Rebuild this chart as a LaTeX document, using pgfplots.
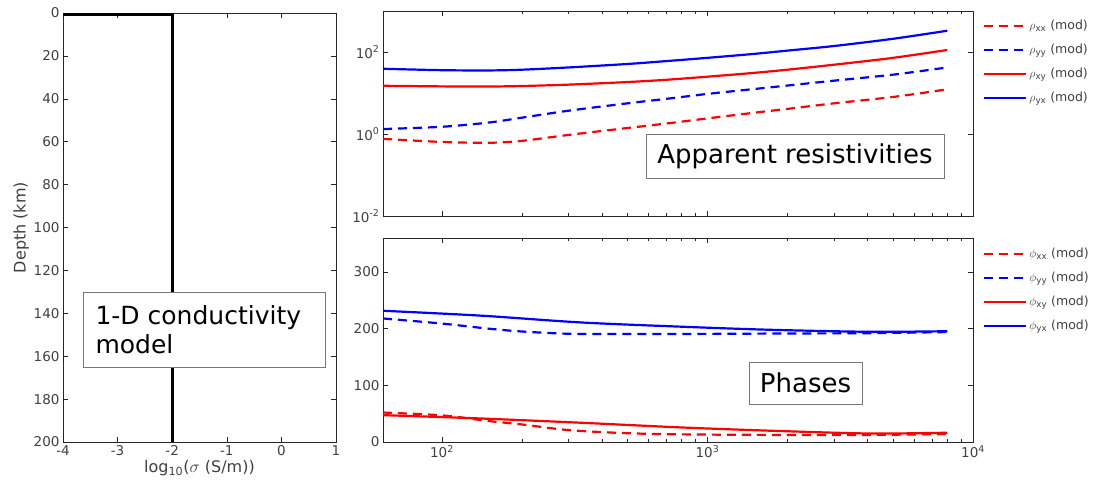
\documentclass[border=0pt]{standalone}
\usepackage{fontspec}
\setmainfont{DejaVu Sans}
\usepackage{pgfplots}
\pgfplotsset{compat=1.18}
\definecolor{axgray}{RGB}{38,38,38}
\definecolor{lblgray}{RGB}{64,64,64}
\definecolor{boxgray}{RGB}{120,120,120}
\pgfplotsset{
  mstyle/.style={scale only axis,
    axis line style={axgray, line width=0.6pt},
    tick style={axgray, line width=0.6pt},
    tick align=inside, major tick length=5pt, minor tick length=3pt,
    tick label style={font=\fontsize{13.5}{14}\selectfont, text=lblgray},
    label style={font=\fontsize{16}{17}\selectfont, text=lblgray},
    /pgf/number format/assume math mode=true},
  leg/.style={legend style={draw=none, fill=none, at={(1.017,0.965)}, anchor=north west,
    font=\fontsize{12.5}{13}\selectfont, text=lblgray, row sep=9pt, inner sep=0pt},
    legend cell align=left,
    legend image code/.code={\draw[##1] (0pt,0pt) -- (42pt,0pt);}},
  dsh/.style={dash pattern=on 9pt off 6pt},
}
\begin{document}
\begin{tikzpicture}
\useasboundingbox (0,0) rectangle (1107pt,495pt);
% left: 1-D model
\begin{axis}[mstyle, at={(63pt,53pt)}, anchor=south west, width=273pt, height=429pt,
  xmin=-4, xmax=1, ymin=0, ymax=200, y dir=reverse, clip=false,
  xtick={-4,-3,-2,-1,0,1}, ytick={0,20,...,200},
  xlabel={log\textsubscript{10}($\sigma$ (S/m))}, ylabel={Depth (km)},
  xlabel style={yshift=2pt}, ylabel style={yshift=-2pt}]
\addplot[black, line width=2.8pt] coordinates {(-4,0.6) (-2,0.6) (-2,200)};
\end{axis}
% upper right: apparent resistivities
\begin{axis}[mstyle, leg, at={(383pt,279pt)}, anchor=south west, width=590pt, height=205pt,
  xmode=log, ymode=log, xmin=60, xmax=10000, ymin=0.01, ymax=1000,
  xtick={100,1000,10000}, xticklabels={}, 
  ytick={0.01,1,100}, yticklabels={10\textsuperscript{-2},10\textsuperscript{0},10\textsuperscript{2}},
  yminorticks=false]
\addplot[red, line width=2.2pt, dsh, smooth] coordinates {(60,0.76) (100,0.64) (150,0.61) (200,0.68) (300,0.95) (500,1.4) (700,1.8) (1000,2.4) (1500,3.3) (2000,4.1) (3000,5.6) (5000,8) (7800,12)};
\addlegendentry{$\rho$\textsubscript{xx} (mod)}
\addplot[blue, line width=2.2pt, dsh, smooth] coordinates {(60,1.32) (100,1.5) (150,1.9) (200,2.5) (300,3.7) (500,5.6) (700,7.2) (1000,9.5) (1500,12.5) (2000,15.2) (3000,20) (5000,28) (8000,42)};
\addlegendentry{$\rho$\textsubscript{yy} (mod)}
\addplot[red, line width=2.2pt, smooth] coordinates {(60,15) (100,14.5) (150,14.4) (200,14.8) (300,16) (500,18.5) (700,21) (1000,25) (1500,31) (2000,37) (3000,49) (5000,72) (8000,112)};
\addlegendentry{$\rho$\textsubscript{xy} (mod)}
\addplot[blue, line width=2.2pt, smooth] coordinates {(60,39) (100,36) (150,35.5) (200,37) (300,42) (500,51) (700,60) (1000,72) (1500,90) (2000,108) (3000,140) (5000,210) (8000,330)};
\addlegendentry{$\rho$\textsubscript{yx} (mod)}
\end{axis}
% lower right: phases
\begin{axis}[mstyle, leg, legend style={at={(1.017,0.96)}}, at={(383pt,53pt)}, anchor=south west, width=590pt, height=204pt,
  xmode=log, xmin=60, xmax=10000, ymin=0, ymax=360,
  xtick={100,1000,10000}, xticklabels={10\textsuperscript{2},10\textsuperscript{3},10\textsuperscript{4}},
  ytick={0,100,200,300}]
\addplot[red, line width=2.2pt, dsh, smooth] coordinates {(60,52) (100,47) (150,37) (200,31) (300,21) (500,15.5) (800,13.5) (1700,12.5) (4000,12.5) (8000,14)};
\addlegendentry{$\phi$\textsubscript{xx} (mod)}
\addplot[blue, line width=2.2pt, dsh, smooth] coordinates {(60,218) (100,209) (150,200) (200,195) (300,191) (500,190.5) (1000,190.8) (2000,191.5) (4000,192) (8000,194)};
\addlegendentry{$\phi$\textsubscript{yy} (mod)}
\addplot[red, line width=2.2pt, smooth] coordinates {(60,47.4) (140,41.5) (333,34) (795,25.7) (1730,19.9) (4090,15) (8000,16.4)};
\addlegendentry{$\phi$\textsubscript{xy} (mod)}
\addplot[blue, line width=2.2pt, smooth] coordinates {(60,231.6) (140,223) (333,211) (795,203.5) (1730,198) (4090,194.5) (8000,195.5)};
\addlegendentry{$\phi$\textsubscript{yx} (mod)}
\end{axis}
% annotation boxes
\draw[boxgray, line width=0.6pt, fill=white] (83pt,128pt) rectangle (325pt,203pt);
\node[anchor=west, align=left, font=\fontsize{25}{29}\selectfont] at (92pt,165.5pt) {1-D conductivity\\model};
\draw[boxgray, line width=0.6pt, fill=white] (646pt,317pt) rectangle (944pt,361pt);
\node[font=\fontsize{26}{28}\selectfont] at (795pt,339pt) {Apparent resistivities};
\draw[boxgray, line width=0.6pt, fill=white] (749pt,91pt) rectangle (862pt,133pt);
\node[font=\fontsize{26}{28}\selectfont] at (805.5pt,112pt) {Phases};
\end{tikzpicture}
\end{document}
